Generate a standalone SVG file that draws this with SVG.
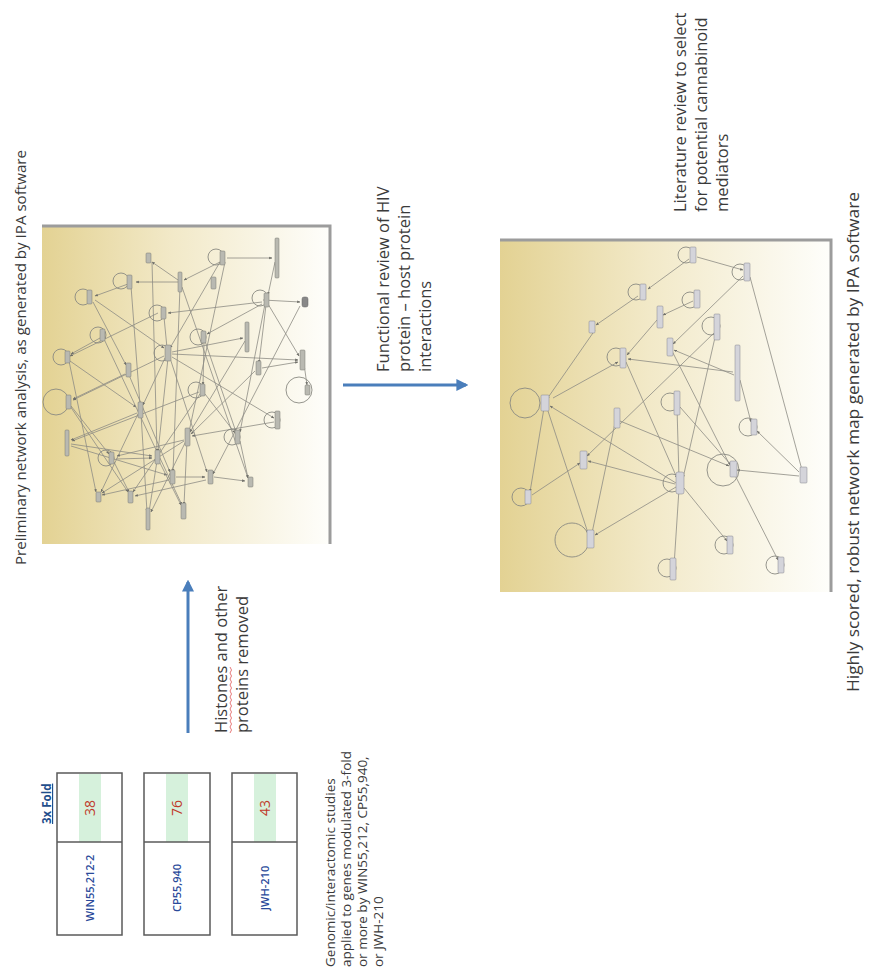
<svg xmlns="http://www.w3.org/2000/svg" width="872" height="977" viewBox="0 0 872 977">
<style>
.cap{font-family:"Open Sans","Liberation Sans",sans-serif;font-size:16.5px;fill:#3a3a3a}
.sm{font-size:13.5px}
.lbl{font-family:"Open Sans","Liberation Sans",sans-serif;font-size:11px;font-weight:600;fill:#2a4a9a;text-anchor:middle}
.num{font-family:"Open Sans","Liberation Sans",sans-serif;font-size:14px;fill:#c0392b;text-anchor:middle}
.box{fill:#ffffff;stroke:#5a5a5a;stroke-width:1.5}
.band{fill:#d6f1dc}
.edge{stroke:#8d8c84;stroke-width:0.8;fill:none;marker-end:url(#sa)}
.loop{fill:none;stroke:#8a8a82;stroke-width:0.9}
.nd{fill:#b9b9b1;stroke:#7a7a72;stroke-width:0.5}
.ndr{fill:#d4d4da;stroke:#85858c;stroke-width:0.5}
.blue{stroke:#4a7ebb;stroke-width:3;fill:none;marker-end:url(#ba)}
.frame{stroke:#9c9c9c;stroke-width:3;fill:none}
</style>
<defs>
<linearGradient id="bg" x1="0" y1="0" x2="1" y2="0">
<stop offset="0" stop-color="#e3d293"/>
<stop offset="0.45" stop-color="#f2e9c8"/>
<stop offset="1" stop-color="#fefefb"/>
</linearGradient>
<marker id="ba" viewBox="0 0 10 10" refX="8" refY="5" markerWidth="4" markerHeight="4" orient="auto" markerUnits="strokeWidth">
<path d="M0,0 L10,5 L0,10 Z" fill="#4a7ebb"/>
</marker>
<marker id="sa" viewBox="0 0 10 10" refX="9" refY="5" markerWidth="4" markerHeight="4" orient="auto" markerUnits="strokeWidth">
<path d="M0,1 L10,5 L0,9 Z" fill="#6e6e68"/>
</marker>
</defs>
<rect width="872" height="977" fill="#ffffff"/>

<!-- Captions -->
<g id="cap-preliminary"><text class="cap" style="font-size:15px" textLength="415" lengthAdjust="spacingAndGlyphs" transform="translate(26,565) rotate(-90)">Preliminary network analysis, as generated by IPA software</text></g>
<g id="cap-functional">
<text class="cap" transform="translate(389,372) rotate(-90)">Functional review of HIV</text>
<text class="cap" transform="translate(410,372) rotate(-90)">protein – host protein</text>
<text class="cap" transform="translate(431,372) rotate(-90)">interactions</text>
</g>
<g id="cap-literature">
<text class="cap" transform="translate(686,212) rotate(-90)">Literature review to select</text>
<text class="cap" transform="translate(707,212) rotate(-90)">for potential cannabinoid</text>
<text class="cap" transform="translate(728,212) rotate(-90)">mediators</text>
</g>
<g id="cap-highly"><text class="cap" style="font-size:17px" textLength="500" lengthAdjust="spacingAndGlyphs" transform="translate(859,692) rotate(-90)">Highly scored, robust network map generated by IPA software</text></g>
<g id="cap-histones">
<text class="cap" transform="translate(227,733) rotate(-90)">Histones and other</text>
<text class="cap" transform="translate(248,733) rotate(-90)">proteins  removed</text>
<path d="M230,733 l1.5,-3 l-1.5,-3 l1.5,-3 l-1.5,-3 l1.5,-3 l-1.5,-3 l1.5,-3 l-1.5,-3 l1.5,-3 l-1.5,-3 l1.5,-3 l-1.5,-3 l1.5,-3 l-1.5,-3 l1.5,-3 l-1.5,-3 l1.5,-3 l-1.5,-3 l1.5,-3 l-1.5,-3 l1.5,-3 l-1.5,-3" fill="none" stroke="#e05555" stroke-width="0.8"/>
</g>
<g id="cap-genomic">
<text class="cap sm" transform="translate(335,967) rotate(-90)">Genomic/interactomic studies</text>
<text class="cap sm" transform="translate(351,967) rotate(-90)">applied to genes modulated 3-fold</text>
<text class="cap sm" transform="translate(367,967) rotate(-90)">or more by WIN55,212, CP55,940,</text>
<text class="cap sm" transform="translate(383,967) rotate(-90)">or JWH-210</text>
</g>

<!-- Table boxes -->
<g id="fold-header"><text transform="translate(51,824) rotate(-90)" style="font-family:'Open Sans','Liberation Sans',sans-serif;font-size:11.5px;font-weight:bold;fill:#1f4e8c;text-decoration:underline">3x Fold</text></g>
<g id="box-win">
<rect class="box" x="57" y="773" width="65" height="162"/>
<rect class="band" x="79" y="774" width="22" height="68"/>
<line x1="57" y1="842" x2="122" y2="842" stroke="#5a5a5a" stroke-width="1.5"/>
<text class="num" transform="translate(95,808) rotate(-90)">38</text>
<text class="lbl" transform="translate(94,888) rotate(-90)">WIN55,212-2</text>
</g>
<g id="box-cp">
<rect class="box" x="144" y="773" width="66" height="162"/>
<rect class="band" x="166" y="774" width="22" height="68"/>
<line x1="144" y1="842" x2="210" y2="842" stroke="#5a5a5a" stroke-width="1.5"/>
<text class="num" transform="translate(182,808) rotate(-90)">76</text>
<text class="lbl" transform="translate(181,888) rotate(-90)">CP55,940</text>
</g>
<g id="box-jwh">
<rect class="box" x="232" y="773" width="65" height="162"/>
<rect class="band" x="254" y="774" width="22" height="68"/>
<line x1="232" y1="842" x2="297" y2="842" stroke="#5a5a5a" stroke-width="1.5"/>
<text class="num" transform="translate(270,808) rotate(-90)">43</text>
<text class="lbl" transform="translate(269,888) rotate(-90)">JWH-210</text>
</g>

<!-- Big arrows -->
<g id="arrows">
<line class="blue" x1="188" y1="733" x2="188" y2="582"/>
<line class="blue" x1="343" y1="385" x2="466" y2="385"/>
</g>

<!-- Left panel -->
<g id="panel-left">
<rect x="42" y="226" width="288" height="318" fill="url(#bg)"/>
<path class="frame" d="M42,226 H330 V544"/>
</g>
<g id="left-edges">
<path class="edge" d="M178,282 L136,282"/>
<path class="edge" d="M178,280 L152,262"/>
<path class="edge" d="M128,284 L95,296"/>
<path class="edge" d="M227,258 L272,258"/>
<path class="edge" d="M220,262 L184,280"/>
<path class="edge" d="M220,262 L170,348"/>
<path class="edge" d="M225,262 L189,432"/>
<path class="edge" d="M263,300 L300,302"/>
<path class="edge" d="M262,302 L168,313"/>
<path class="edge" d="M268,304 L299,356"/>
<path class="edge" d="M262,304 L207,334"/>
<path class="edge" d="M266,305 L259,363"/>
<path class="edge" d="M95,300 L164,348"/>
<path class="edge" d="M93,302 L126,365"/>
<path class="edge" d="M180,287 L173,472"/>
<path class="edge" d="M182,287 L248,478"/>
<path class="edge" d="M164,317 L167,348"/>
<path class="edge" d="M100,338 L71,354"/>
<path class="edge" d="M70,361 L136,407"/>
<path class="edge" d="M69,361 L96,492"/>
<path class="edge" d="M172,352 L243,338"/>
<path class="edge" d="M172,354 L298,360"/>
<path class="edge" d="M164,356 L73,400"/>
<path class="edge" d="M165,358 L143,405"/>
<path class="edge" d="M168,358 L158,452"/>
<path class="edge" d="M172,357 L274,418"/>
<path class="edge" d="M170,358 L207,472"/>
<path class="edge" d="M125,374 L73,399"/>
<path class="edge" d="M129,375 L170,472"/>
<path class="edge" d="M205,341 L236,432"/>
<path class="edge" d="M245,341 L190,432"/>
<path class="edge" d="M262,368 L298,362"/>
<path class="edge" d="M255,371 L191,434"/>
<path class="edge" d="M204,342 L203,385"/>
<path class="edge" d="M71,406 L109,454"/>
<path class="edge" d="M70,406 L128,492"/>
<path class="edge" d="M138,414 L101,492"/>
<path class="edge" d="M141,414 L147,512"/>
<path class="edge" d="M137,413 L71,440"/>
<path class="edge" d="M205,394 L235,433"/>
<path class="edge" d="M200,394 L133,492"/>
<path class="edge" d="M199,392 L72,441"/>
<path class="edge" d="M274,422 L192,436"/>
<path class="edge" d="M240,441 L248,478"/>
<path class="edge" d="M184,440 L117,456"/>
<path class="edge" d="M184,441 L102,493"/>
<path class="edge" d="M186,441 L151,512"/>
<path class="edge" d="M187,441 L184,505"/>
<path class="edge" d="M71,444 L152,456"/>
<path class="edge" d="M71,446 L167,475"/>
<path class="edge" d="M116,459 L152,458"/>
<path class="edge" d="M114,462 L129,492"/>
<path class="edge" d="M159,461 L181,505"/>
<path class="edge" d="M176,477 L205,477"/>
<path class="edge" d="M169,480 L102,495"/>
<path class="edge" d="M214,477 L245,481"/>
<path class="edge" d="M206,480 L135,496"/>
<path class="edge" d="M157,461 L149,512"/>
<path class="edge" d="M131,286 L140,405"/>
<path class="edge" d="M275,262 L268,295"/>
<path class="edge" d="M304,364 L307,385"/>
<path class="edge" d="M265,304 L240,432"/>
<path class="edge" d="M104,339 L182,505"/>
<path class="edge" d="M152,262 L157,452"/>
<path class="edge" d="M300,306 L213,474"/>
<path class="edge" d="M158,313 L70,356"/>
</g>
<g id="left-nodes">
<g id="ln1"><rect class="nd" x="146" y="253" width="5" height="10" rx="1"/></g>
<g id="ln2"><circle class="loop" cx="121" cy="281" r="8"/><rect class="nd" x="127" y="275" width="5" height="14" rx="1"/></g>
<g id="ln3"><circle class="loop" cx="83" cy="297" r="8"/><rect class="nd" x="87" y="290" width="5" height="14" rx="1"/></g>
<g id="ln4"><rect class="nd" x="178" y="272" width="4" height="20" rx="1"/></g>
<g id="ln5"><circle class="loop" cx="216" cy="257" r="8"/><rect class="nd" x="220" y="251" width="5" height="14" rx="1"/></g>
<g id="ln6"><rect class="nd" x="275" y="238" width="4" height="40" rx="1"/></g>
<g id="ln7"><rect class="nd" x="211" y="277" width="5" height="12" rx="1"/></g>
<g id="ln8"><circle class="loop" cx="260" cy="298" r="8"/><rect class="nd" x="264" y="293" width="5" height="14" rx="1"/></g>
<g id="ln9"><rect x="302" y="297" width="6" height="10" rx="2" fill="#888" stroke="#666" stroke-width="0.5"/></g>
<g id="ln10"><circle class="loop" cx="157" cy="313" r="8"/><rect class="nd" x="161" y="307" width="5" height="12" rx="1"/></g>
<g id="ln11"><circle class="loop" cx="98" cy="335" r="8"/><rect class="nd" x="100" y="329" width="5" height="12" rx="1"/></g>
<g id="ln12"><circle class="loop" cx="61" cy="357" r="8"/><rect class="nd" x="65" y="351" width="5" height="12" rx="1"/></g>
<g id="ln13"><circle class="loop" cx="162" cy="353" r="8"/><rect class="nd" x="165" y="345" width="6" height="16" rx="1"/></g>
<g id="ln14"><rect class="nd" x="126" y="363" width="5" height="14" rx="1"/></g>
<g id="ln15"><circle class="loop" cx="198" cy="337" r="8"/><rect class="nd" x="201" y="331" width="5" height="12" rx="1"/></g>
<g id="ln16"><rect class="nd" x="245" y="322" width="4" height="30" rx="1"/></g>
<g id="ln17"><rect class="nd" x="256" y="361" width="5" height="14" rx="1"/></g>
<g id="ln18"><rect class="nd" x="300" y="350" width="5" height="20" rx="1"/></g>
<g id="ln19"><circle class="loop" cx="299" cy="390" r="13"/><rect class="nd" x="305" y="385" width="5" height="10" rx="1"/></g>
<g id="ln20"><circle class="loop" cx="56" cy="402" r="13"/><rect class="nd" x="66" y="395" width="5" height="14" rx="1"/></g>
<g id="ln21"><rect class="nd" x="138" y="402" width="5" height="16" rx="1"/></g>
<g id="ln22"><circle class="loop" cx="196" cy="390" r="8"/><rect class="nd" x="200" y="384" width="5" height="12" rx="1"/></g>
<g id="ln23"><circle class="loop" cx="272" cy="420" r="8"/><rect class="nd" x="275" y="411" width="5" height="18" rx="1"/></g>
<g id="ln24"><circle class="loop" cx="232" cy="437" r="8"/><rect class="nd" x="235" y="430" width="5" height="14" rx="1"/></g>
<g id="ln25"><rect class="nd" x="185" y="428" width="5" height="18" rx="1"/></g>
<g id="ln26"><rect class="nd" x="65" y="430" width="4" height="26" rx="1"/></g>
<g id="ln27"><circle class="loop" cx="106" cy="458" r="8"/><rect class="nd" x="109" y="452" width="5" height="12" rx="1"/></g>
<g id="ln28"><rect class="nd" x="155" y="450" width="5" height="14" rx="1"/></g>
<g id="ln29"><rect class="nd" x="170" y="470" width="5" height="14" rx="1"/></g>
<g id="ln30"><rect class="nd" x="208" y="470" width="5" height="14" rx="1"/></g>
<g id="ln31"><rect class="nd" x="248" y="477" width="5" height="10" rx="1"/></g>
<g id="ln32"><rect class="nd" x="96" y="492" width="5" height="10" rx="1"/></g>
<g id="ln33"><rect class="nd" x="128" y="491" width="5" height="12" rx="1"/></g>
<g id="ln34"><rect class="nd" x="146" y="508" width="4" height="22" rx="1"/></g>
<g id="ln35"><rect class="nd" x="181" y="503" width="5" height="16" rx="1"/></g>
</g>

<!-- Right panel -->
<g id="panel-right">
<rect x="500" y="240" width="331" height="352" fill="url(#bg)"/>
<path class="frame" d="M500,240 H831 V592"/>
</g>
<g id="right-edges">
<path class="edge" d="M697,257 L743,270"/>
<path class="edge" d="M689,259 L648,289"/>
<path class="edge" d="M638,296 L596,325"/>
<path class="edge" d="M693,301 L663,315"/>
<path class="edge" d="M657,320 L627,355"/>
<path class="edge" d="M743,276 L673,344"/>
<path class="edge" d="M750,277 L802,470"/>
<path class="edge" d="M553,398 L618,362"/>
<path class="edge" d="M716,333 L683,478"/>
<path class="edge" d="M714,333 L587,456"/>
<path class="edge" d="M733,372 L628,359"/>
<path class="edge" d="M734,375 L674,350"/>
<path class="edge" d="M740,380 L751,422"/>
<path class="edge" d="M799,472 L757,431"/>
<path class="edge" d="M799,476 L737,470"/>
<path class="edge" d="M672,351 L778,560"/>
<path class="edge" d="M626,362 L677,478"/>
<path class="edge" d="M677,408 L679,478"/>
<path class="edge" d="M676,483 L550,406"/>
<path class="edge" d="M547,408 L588,533"/>
<path class="edge" d="M544,408 L530,492"/>
<path class="edge" d="M615,423 L592,533"/>
<path class="edge" d="M620,421 L729,466"/>
<path class="edge" d="M532,495 L580,463"/>
<path class="edge" d="M675,484 L588,461"/>
<path class="edge" d="M676,487 L595,535"/>
<path class="edge" d="M674,566 L679,489"/>
<path class="edge" d="M684,488 L727,541"/>
<path class="edge" d="M680,407 L731,465"/>
<path class="edge" d="M595,330 L547,399"/>
</g>
<g id="right-nodes">
<g id="rnA"><circle class="loop" cx="686" cy="255" r="8"/><rect class="ndr" x="690" y="247" width="6" height="16" rx="1"/></g>
<g id="rnB"><circle class="loop" cx="740" cy="272" r="8"/><rect class="ndr" x="744" y="263" width="6" height="18" rx="1"/></g>
<g id="rnC"><circle class="loop" cx="636" cy="292" r="8"/><rect class="ndr" x="640" y="284" width="6" height="16" rx="1"/></g>
<g id="rnD"><circle class="loop" cx="690" cy="300" r="8"/><rect class="ndr" x="694" y="290" width="6" height="18" rx="1"/></g>
<g id="rnE"><rect class="ndr" x="589" y="321" width="6" height="12" rx="1"/></g>
<g id="rnF"><rect class="ndr" x="657" y="306" width="6" height="22" rx="1"/></g>
<g id="rnG"><circle class="loop" cx="711" cy="326" r="9"/><rect class="ndr" x="714" y="314" width="6" height="26" rx="1"/></g>
<g id="rnH"><rect class="ndr" x="667" y="338" width="6" height="18" rx="1"/></g>
<g id="rnI"><circle class="loop" cx="616" cy="357" r="9"/><rect class="ndr" x="620" y="348" width="6" height="20" rx="1"/></g>
<g id="rnJ"><rect class="ndr" x="735" y="345" width="5" height="56" rx="1"/></g>
<g id="rnK"><circle class="loop" cx="670" cy="402" r="9"/><rect class="ndr" x="674" y="391" width="6" height="24" rx="1"/></g>
<g id="rnL"><circle class="loop" cx="525" cy="403" r="15"/><rect class="ndr" x="541" y="395" width="8" height="16" rx="1"/></g>
<g id="rnM"><rect class="ndr" x="614" y="408" width="6" height="20" rx="1"/></g>
<g id="rnN"><circle class="loop" cx="748" cy="427" r="9"/><rect class="ndr" x="751" y="419" width="6" height="16" rx="1"/></g>
<g id="rnO"><rect class="ndr" x="580" y="451" width="7" height="18" rx="1"/></g>
<g id="rnP"><circle class="loop" cx="672" cy="483" r="9"/><rect class="ndr" x="676" y="472" width="8" height="22" rx="2"/></g>
<g id="rnQ"><circle class="loop" cx="723" cy="470" r="16"/><rect class="ndr" x="730" y="461" width="7" height="16" rx="1"/></g>
<g id="rnR"><rect class="ndr" x="800" y="467" width="7" height="16" rx="1"/></g>
<g id="rnS"><circle class="loop" cx="521" cy="497" r="9"/><rect class="ndr" x="525" y="490" width="6" height="14" rx="1"/></g>
<g id="rnT"><circle class="loop" cx="572" cy="540" r="17"/><rect class="ndr" x="587" y="530" width="7" height="18" rx="1"/></g>
<g id="rnU"><circle class="loop" cx="724" cy="545" r="9"/><rect class="ndr" x="727" y="536" width="6" height="18" rx="1"/></g>
<g id="rnV"><circle class="loop" cx="667" cy="568" r="9"/><rect class="ndr" x="670" y="558" width="6" height="22" rx="1"/></g>
<g id="rnW"><circle class="loop" cx="775" cy="565" r="9"/><rect class="ndr" x="778" y="557" width="6" height="16" rx="1"/></g>
</g>
</svg>
